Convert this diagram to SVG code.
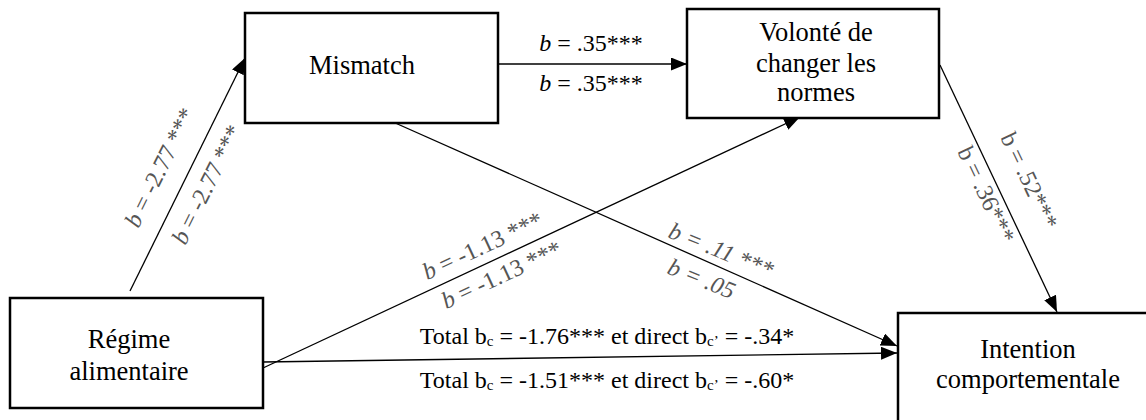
<svg xmlns="http://www.w3.org/2000/svg" width="1146" height="420" viewBox="0 0 1146 420">
<style>
.box{fill:#fff;stroke:#000;stroke-width:2.5}
.node{font-family:"Liberation Serif","Times New Roman",serif;font-size:26.5px;fill:#000;text-anchor:middle}
.edge{stroke:#000;stroke-width:1.3;fill:none;marker-end:url(#arr)}
.lbl{font-family:"Liberation Serif","Times New Roman",serif;font-size:24px;fill:#000}
.rl{font-family:"Liberation Serif","Times New Roman",serif;font-size:24px;fill:#555}
.i{font-style:italic}
.sub{font-size:15px}
</style>
<defs>
<marker id="arr" markerUnits="userSpaceOnUse" markerWidth="16" markerHeight="13" refX="16" refY="6.5" orient="auto">
<path d="M0,0 L16,6.5 L0,13 z" fill="#000"/>
</marker>
</defs>
<rect width="1146" height="420" fill="#fff"/>
<g id="connectors">
<line class="edge" x1="130" y1="291" x2="245" y2="58"/>
<line class="edge" x1="498" y1="64" x2="687" y2="64"/>
<line class="edge" x1="263" y1="368" x2="800" y2="117"/>
<line class="edge" x1="393" y1="122" x2="897" y2="346"/>
<line class="edge" x1="263" y1="362" x2="897" y2="353"/>
<line class="edge" x1="940" y1="65" x2="1057" y2="312"/>
</g>
<g id="node-mismatch">
<rect class="box" x="245" y="13" width="253" height="110"/>
<text class="node" x="362" y="74">Mismatch</text>
</g>
<g id="node-volonte">
<rect class="box" x="687" y="9" width="252" height="109"/>
<text class="node" x="816" y="41">Volonté de</text>
<text class="node" x="816" y="72">changer les</text>
<text class="node" x="816" y="101">normes</text>
</g>
<g id="node-regime">
<rect class="box" x="10" y="298" width="253" height="110"/>
<text class="node" x="129" y="348">Régime</text>
<text class="node" x="129" y="380">alimentaire</text>
</g>
<g id="node-intention">
<rect class="box" x="898" y="313" width="270" height="130"/>
<text class="node" x="1028" y="358">Intention</text>
<text class="node" x="1028" y="388">comportementale</text>
</g>
<g id="labels">
<text class="lbl" x="591" y="51" text-anchor="middle"><tspan class="i">b</tspan> = .35***</text>
<text class="lbl" x="591" y="91" text-anchor="middle"><tspan class="i">b</tspan> = .35***</text>
<text class="rl" text-anchor="middle" transform="translate(167,171) rotate(-63.7)"><tspan class="i">b</tspan> = -2.77 ***</text>
<text class="rl" text-anchor="middle" transform="translate(214,188) rotate(-63.7)"><tspan class="i">b</tspan> = -2.77 ***</text>
<text class="rl" text-anchor="middle" transform="translate(486,253) rotate(-25)"><tspan class="i">b</tspan> = -1.13 ***</text>
<text class="rl" text-anchor="middle" transform="translate(505,282) rotate(-25)"><tspan class="i">b</tspan> = -1.13 ***</text>
<text class="rl i" transform="translate(667,237) rotate(22)">b = .11 ***</text>
<text class="rl i" transform="translate(666,273) rotate(22)">b = .05</text>
<text class="rl" text-anchor="middle" transform="translate(1022,184) rotate(64.7)">b = .52***</text>
<text class="rl" text-anchor="middle" transform="translate(979,198) rotate(64.7)">b = .36***</text>
<text class="lbl" x="607" y="344" text-anchor="middle">Total b<tspan class="sub" dy="2">c</tspan><tspan dy="-2"> = -1.76*** et direct b</tspan><tspan class="sub" dy="2">c’</tspan><tspan dy="-2"> = -.34*</tspan></text>
<text class="lbl" x="607" y="388" text-anchor="middle">Total b<tspan class="sub" dy="2">c</tspan><tspan dy="-2"> = -1.51*** et direct b</tspan><tspan class="sub" dy="2">c’</tspan><tspan dy="-2"> = -.60*</tspan></text>
</g>
</svg>
